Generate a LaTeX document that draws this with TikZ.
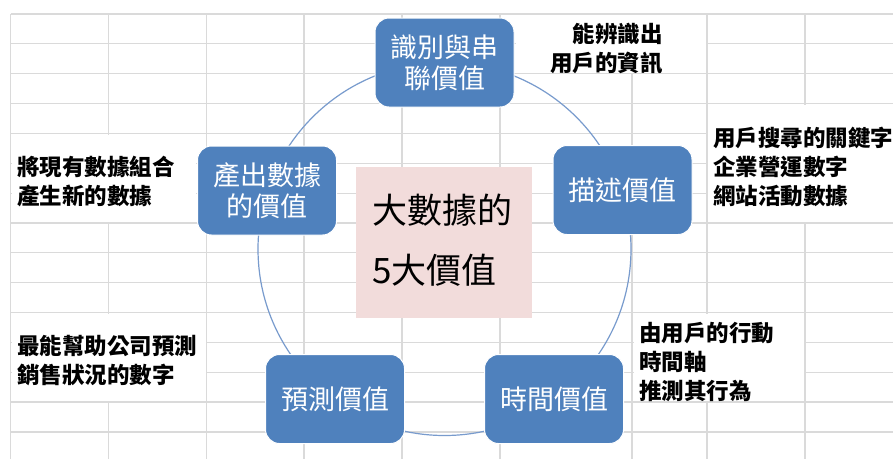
\documentclass[tikz,border=0pt]{standalone}
\usepackage{fontspec}
\setmainfont{Noto Sans CJK TC}
\definecolor{gridc}{RGB}{218,218,218}
\definecolor{nodeblue}{RGB}{79,129,189}
\definecolor{arcblue}{RGB}{120,155,205}
\definecolor{pinkfill}{RGB}{242,220,219}
\begin{document}
\begin{tikzpicture}[x=1pt,y=-1pt,
  gridline/.style={gridc, line width=1.2pt},
  cover/.style={fill=white, draw=none},
  valbox/.style={draw=white, line width=1pt, fill=nodeblue, rounded corners=14pt,
    minimum width=139pt, minimum height=89pt, text=white,
    font=\fontsize{27}{31}\selectfont, align=center, inner sep=0pt},
  note/.style={font=\fontsize{22.5}{29}\selectfont\bfseries, inner sep=0pt, align=left},
  coretext/.style={anchor=west, font=\fontsize{35}{35}\selectfont, inner sep=0pt}
]
\useasboundingbox (0,0) rectangle (893,459);
\fill[white] (0,0) rectangle (893,459);
% spreadsheet grid
\foreach \x in {10.7,108.7,206.7,304,402,500,632,707,805}
  \draw[gridline] (\x,14) -- (\x,459);
\foreach \k in {0,...,14}
  \draw[gridline] (10.7,14+29.85*\k) -- (893,14+29.85*\k);
% white text boxes covering the grid
\fill[cover] (11.5,135) rectangle (196,222);
\fill[cover] (516,15) rectangle (706,73);
\fill[cover] (708,105) rectangle (893,222);
\fill[cover] (11.5,314) rectangle (206,401);
\fill[cover] (634,314) rectangle (804,401);
% cycle
\coordinate (c) at (444.5,249);
\draw[arcblue, line width=1.2pt] (c) circle[radius=186.5];
% center box
\node[fill=pinkfill, minimum width=176pt, minimum height=151pt, inner sep=0pt] (core) at (444,242.5) {};
\node[coretext] (t1) at (372,210) {大數據的};
\node[coretext] (t2) at (372,270) {5大價值};
% value boxes
\node[valbox] (top) at (444.5,62.5) {識別與串\\聯價值};
\node[valbox] (left) at (267,190.5) {產出數據\\的價值};
\node[valbox] (right) at (622.5,190) {描述價值};
\node[valbox] (bl) at (335,399) {預測價值};
\node[valbox] (br) at (554,399) {時間價值};
% notes
\node[note, anchor=east, align=right] (n1) at (663,49) {能辨識出\\用戶的資訊};
\node[note, anchor=west] (n2) at (713,167) {用戶搜尋的關鍵字\\企業營運數字\\網站活動數據};
\node[note, anchor=west] (n3) at (17,181) {將現有數據組合\\產生新的數據};
\node[note, anchor=west] (n4) at (17,360.5) {最能幫助公司預測\\銷售狀況的數字};
\node[note, anchor=west] (n5) at (639,361.5) {由用戶的行動\\時間軸\\推測其行為};
\end{tikzpicture}
\end{document}
